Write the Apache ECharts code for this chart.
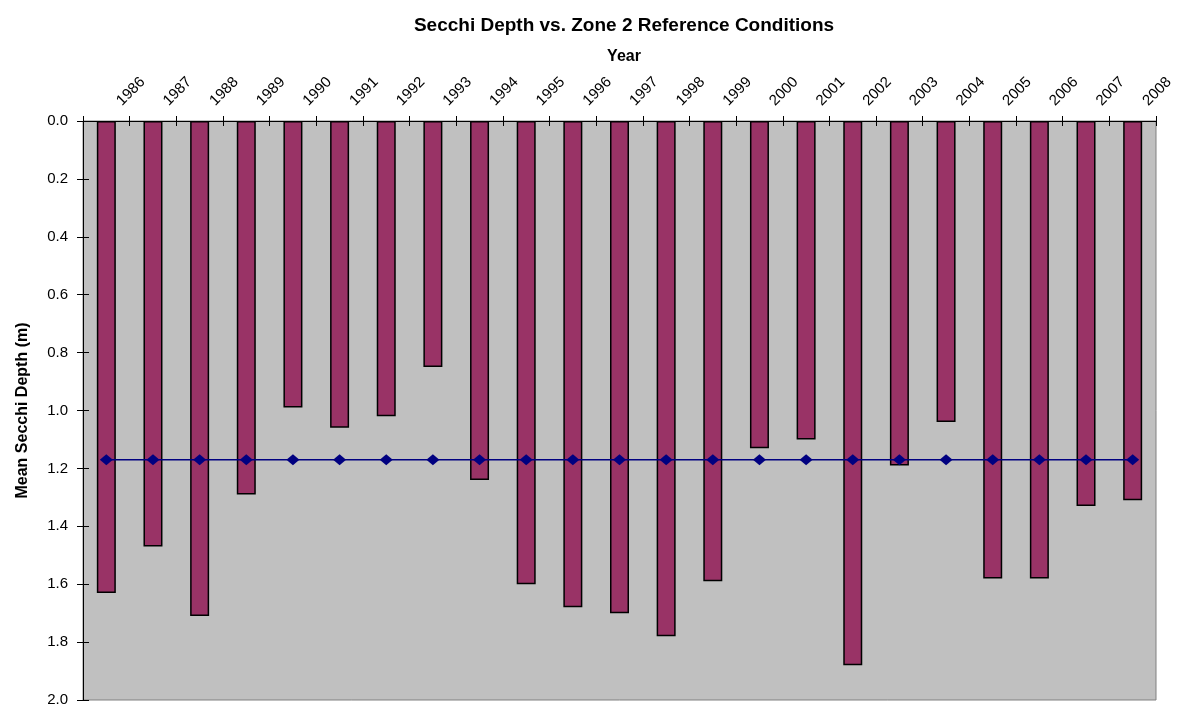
<!DOCTYPE html>
<html>
<head>
<meta charset="utf-8">
<title>Secchi Depth vs. Zone 2 Reference Conditions</title>
<script src="https://cdn.jsdelivr.net/npm/echarts@6/dist/echarts.min.js"></script>
<style>
  html, body { margin: 0; padding: 0; background: #ffffff; }
  #chart { width: 1182px; height: 711px; }
</style>
</head>
<body>
<div id="chart"></div>
<script>
// categories and values
const years = ["1986", "1987", "1988", "1989", "1990", "1991", "1992", "1993", "1994", "1995", "1996", "1997",
  "1998", "1999", "2000", "2001", "2002", "2003", "2004", "2005", "2006", "2007", "2008"];
const meanSecchi = [1.63, 1.47, 1.71, 1.29, 0.99, 1.06, 1.02, 0.85, 1.24, 1.60, 1.68, 1.70,
  1.78, 1.59, 1.13, 1.10, 1.88, 1.19, 1.04, 1.58, 1.58, 1.33, 1.31];
const zone2Reference = [1.17, 1.17, 1.17, 1.17, 1.17, 1.17, 1.17, 1.17, 1.17, 1.17, 1.17, 1.17,
  1.17, 1.17, 1.17, 1.17, 1.17, 1.17, 1.17, 1.17, 1.17, 1.17, 1.17];

const font = "'Liberation Sans', Arial, sans-serif";

const myChart = echarts.init(document.getElementById("chart"));
const option = {
  animation: false,
  backgroundColor: "#ffffff",
  textStyle: { fontFamily: font },
  title: [
    {
      text: "Secchi Depth vs. Zone 2 Reference Conditions",
      left: 619,
      top: 11,
      textAlign: "center",
      textStyle: { fontFamily: font, fontSize: 19, fontWeight: "bold", color: "#000" },
    },
    {
      text: "Year",
      left: 619,
      top: 44,
      textAlign: "center",
      textStyle: { fontFamily: font, fontSize: 16, fontWeight: "bold", color: "#000" },
    },
  ],
  grid: {
    left: 83,
    right: 26,
    top: 121,
    bottom: 11,
    show: true,
    backgroundColor: "#c0c0c0",
    borderColor: "#808080",
    borderWidth: 1,
  },
  xAxis: [
    {
      type: "category",
      position: "top",
      data: years,
      boundaryGap: true,
      axisLine: { lineStyle: { color: "#000", width: 1 } },
      axisTick: { show: true, interval: 0, length: 5, lineStyle: { color: "#000" } },
      axisLabel: {
        interval: 0,
        rotate: 45,
        margin: 5,
        padding: [0, 0, 0, 18],
        fontFamily: font,
        fontSize: 15,
        color: "#000",
      },
      splitLine: { show: false },
    },
    {
      // second copy only for the inner half of the crossing ticks
      type: "category",
      position: "top",
      offset: 0,
      data: years,
      boundaryGap: true,
      axisLine: { show: false },
      axisTick: { show: true, inside: true, interval: 0, length: 5, lineStyle: { color: "#000" } },
      axisLabel: { show: false },
      splitLine: { show: false },
      z: 5,
    },
  ],
  yAxis: [
    {
      type: "value",
      inverse: true,
      min: 0,
      max: 2,
      interval: 0.2,
      name: "Mean Secchi Depth (m)",
      nameLocation: "middle",
      nameGap: 52,
      nameTextStyle: { fontFamily: font, fontSize: 16, fontWeight: "bold", color: "#000" },
      axisLine: { show: true, lineStyle: { color: "#000", width: 1 } },
      axisTick: { show: true, length: 6, lineStyle: { color: "#000" } },
      axisLabel: {
        margin: 15,
        fontFamily: font,
        fontSize: 15,
        color: "#000",
        formatter: function (v) { return v.toFixed(1); },
      },
      splitLine: { show: false },
    },
    {
      type: "value",
      position: "left",
      offset: 0,
      inverse: true,
      min: 0,
      max: 2,
      interval: 0.2,
      axisLine: { show: false },
      axisTick: { show: true, inside: true, length: 6, lineStyle: { color: "#000" } },
      axisLabel: { show: false },
      splitLine: { show: false },
      z: 5,
    },
  ],
  series: [
    {
      name: "Mean Secchi Depth",
      type: "bar",
      data: meanSecchi,
      barWidth: 19,
      itemStyle: { color: "#993366", borderColor: "#000", borderWidth: 1.5 },
      z: 2,
    },
    {
      name: "Zone 2 Reference",
      type: "line",
      data: zone2Reference,
      symbol: "diamond",
      symbolSize: [13, 11],
      lineStyle: { color: "#000080", width: 1.5 },
      itemStyle: { color: "#000080" },
      z: 3,
    },
  ],
};
myChart.setOption(option);
</script>
</body>
</html>
